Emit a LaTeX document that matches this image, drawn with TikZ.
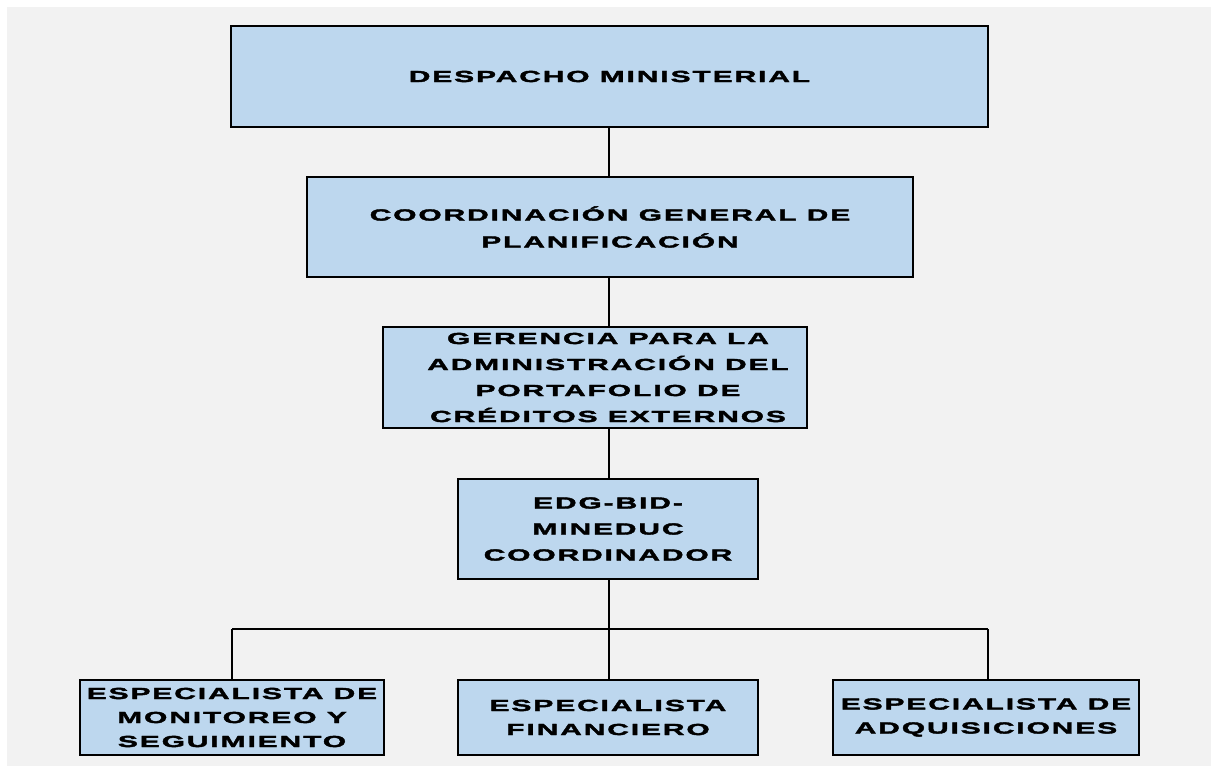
\documentclass[tikz,border=0pt]{standalone}
\usepackage{fontspec}
\newfontfamily\blk{Liberation Sans Bold}[FakeStretch=1.87,LetterSpace=12,FakeBold=2.5]
\definecolor{bgray}{HTML}{F2F2F2}
\definecolor{boxblue}{HTML}{BDD7EE}
\tikzset{
  orgbox/.style={draw=black, line width=2pt, fill=boxblue, inner sep=0pt, align=center,
    font=\blk\fontsize{16}{26}\selectfont},
  bigtext/.style={font=\blk\fontsize{16}{27}\selectfont},
  smalltext/.style={font=\blk\fontsize{16}{24}\selectfont},
  link/.style={draw=black, line width=2pt},
}
\begin{document}
\begin{tikzpicture}[x=1pt,y=-1pt]
\useasboundingbox (0,0) rectangle (1211,775);
\fill[bgray] (7,7) rectangle (1211,766);
% boxes
\node[orgbox, bigtext, minimum width=757pt, minimum height=101pt] (d) at (609.5,76.5) {DESPACHO MINISTERIAL};
\node[orgbox, bigtext, minimum width=606pt, minimum height=100pt] (c) at (610,227) {COORDINACIÓN GENERAL DE\\PLANIFICACIÓN};
\node[orgbox, minimum width=424pt, minimum height=101pt,
  label={[align=center, font=\blk\fontsize{16}{26}\selectfont, xshift=13pt]center:{GERENCIA PARA LA\\ADMINISTRACIÓN DEL\\PORTAFOLIO DE\\CRÉDITOS EXTERNOS}}] (g) at (595,377.5) {};
\node[orgbox, minimum width=300pt, minimum height=100pt] (e) at (608,529) {EDG-BID-\\MINEDUC\\COORDINADOR};
\node[orgbox, smalltext, minimum width=304pt, minimum height=75pt] (m) at (232,717.5) {ESPECIALISTA DE\\MONITOREO Y\\SEGUIMIENTO};
\node[orgbox, smalltext, minimum width=300pt, minimum height=75pt] (f) at (608,717.5) {ESPECIALISTA\\FINANCIERO};
\node[orgbox, smalltext, minimum width=306pt, minimum height=75pt] (a) at (986,717.5) {ESPECIALISTA DE\\ADQUISICIONES};
% connectors
\coordinate (hl) at (232,629);
\coordinate (hr) at (988,629);
\draw[link] (d.south -| 609,0) -- (c.north -| 609,0);
\draw[link] (c.south -| 609,0) -- (g.north -| 609,0);
\draw[link] (g.south -| 609,0) -- (e.north -| 609,0);
\draw[link] (e.south -| 609,0) -- (f.north -| 609,0);
\draw[link, line width=1.5pt] (hl) -- (hr);
\draw[link] (hl) -- (m.north -| hl);
\draw[link] (hr) -- (a.north -| hr);
\end{tikzpicture}
\end{document}
